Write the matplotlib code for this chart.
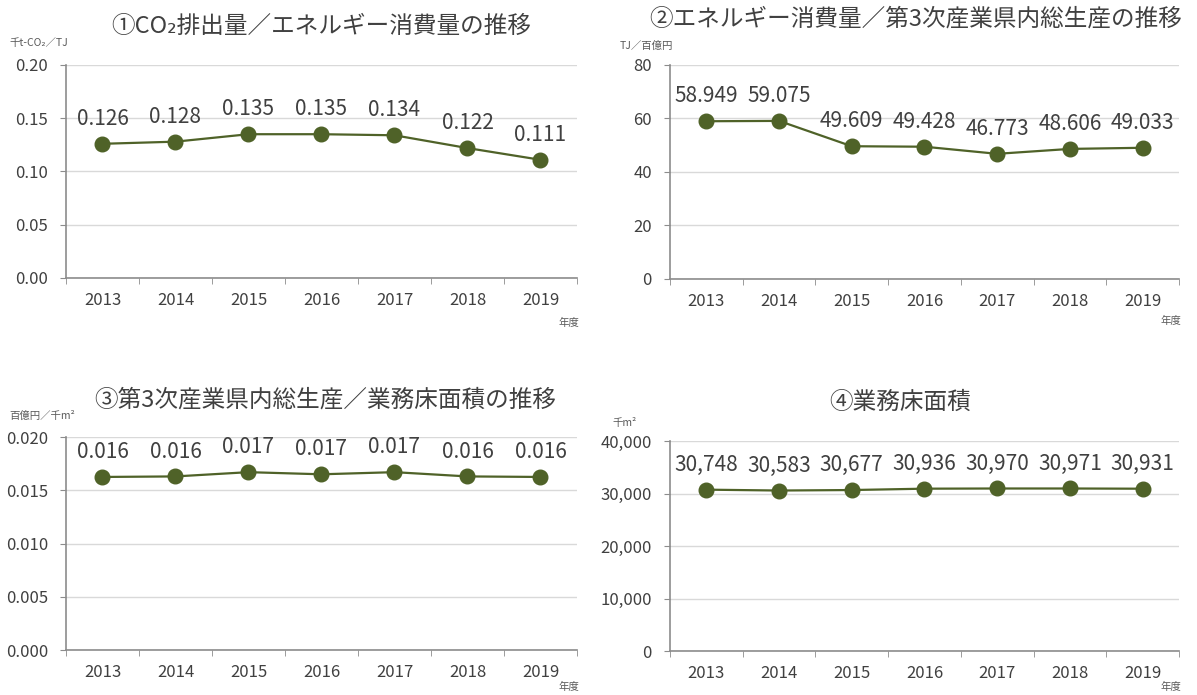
import matplotlib
matplotlib.use('Agg')
import matplotlib.pyplot as plt
from matplotlib.ticker import FuncFormatter, MultipleLocator, FixedLocator

plt.rcParams['font.family'] = ['Noto Sans CJK JP', 'DejaVu Sans']

years = ['2013', '2014', '2015', '2016', '2017', '2018', '2019']

# ①～④ の各系列
co2_per_energy = [0.126, 0.128, 0.135, 0.135, 0.134, 0.122, 0.111]
energy_per_gdp = [58.949, 59.075, 49.609, 49.428, 46.773, 48.606, 49.033]
gdp_per_floor = [0.01625, 0.01630, 0.01670, 0.01650, 0.01670, 0.01630, 0.01625]
floor_area = [30748, 30583, 30677, 30936, 30970, 30971, 30931]

titles = ['①CO₂排出量／エネルギー消費量の推移',
          '②エネルギー消費量／第3次産業県内総生産の推移',
          '③第3次産業県内総生産／業務床面積の推移',
          '④業務床面積']
units = ['千t-CO₂／TJ', 'TJ／百億円', '百億円／千m²', '千m²']

LINE = '#4f6228'
TXT = '#404040'

fig = plt.figure(figsize=(11.97, 6.95), dpi=100)

panels = [
    # data, axes rect, ylim, ystep, tick fmt, label fmt, title xy, unit xy, 年度 offset
    (co2_per_energy, [0.0551, 0.600, 0.4269, 0.3065], 0.20, 0.05,
     lambda v, p: f'{v:.2f}', lambda v: f'{v:.3f}', (0.268, 0.962), (0.008, 0.938), 0.064),
    (energy_per_gdp, [0.5597, 0.5986, 0.4252, 0.308], 80, 20,
     lambda v, p: f'{v:.0f}', lambda v: f'{v:.3f}', (0.765, 0.972), (0.518, 0.934), 0.060),
    (gdp_per_floor, [0.0551, 0.0647, 0.4269, 0.3065], 0.020, 0.005,
     lambda v, p: f'{v:.3f}', lambda v: f'{v:.3f}', (0.272, 0.424), (0.008, 0.402), 0.053),
    (floor_area, [0.5597, 0.0633, 0.4252, 0.302], 40000, 10000,
     lambda v, p: f'{v:,.0f}', lambda v: f'{v:,.0f}', (0.752, 0.421), (0.512, 0.392), 0.052),
]

for i, (vals, rect, ymax, ystep, tfmt, lfmt, txy, uxy, yoff) in enumerate(panels):
    ax = fig.add_axes(rect)
    x = list(range(len(years)))
    ax.plot(x, vals, color=LINE, lw=1.6, marker='o', ms=10.5,
            markerfacecolor=LINE, markeredgecolor=LINE, zorder=3)
    for xi, v in zip(x, vals):
        ax.annotate(lfmt(v), (xi, v), xytext=(0, 10), textcoords='offset points',
                    ha='center', va='bottom', fontsize=15, color=TXT)

    ax.set_xlim(-0.5, len(years) - 0.5)
    ax.set_ylim(0, ymax)
    ax.yaxis.set_major_locator(MultipleLocator(ystep))
    ax.yaxis.set_major_formatter(FuncFormatter(tfmt))
    ax.set_xticks(x)
    ax.set_xticklabels(years)
    ax.xaxis.set_minor_locator(FixedLocator([k - 0.5 for k in range(len(years) + 1)]))
    ax.tick_params(axis='x', which='major', length=0, pad=10, labelsize=12, labelcolor=TXT)
    ax.tick_params(axis='x', which='minor', length=4, color='#8c8c8c', direction='out')
    ax.tick_params(axis='y', length=4, color='#8c8c8c', direction='out', pad=9,
                   labelsize=12, labelcolor=TXT)
    ax.grid(axis='y', color='#d9d9d9', lw=1)
    ax.set_axisbelow(True)
    for s in ['top', 'right']:
        ax.spines[s].set_visible(False)
    for s in ['left', 'bottom']:
        ax.spines[s].set_color('#8c8c8c')
        ax.spines[s].set_linewidth(1.2)

    fig.text(txy[0], txy[1], titles[i], ha='center', va='center', fontsize=17, color=TXT)
    fig.text(uxy[0], uxy[1], units[i], ha='left', va='center', fontsize=7.5, color='#595959')
    fig.text(rect[0] + rect[2] - 0.007, rect[1] - yoff, '年度', ha='center', va='center',
             fontsize=7.5, color='#595959')

fig.savefig('out.png', dpi=100, facecolor='white')
